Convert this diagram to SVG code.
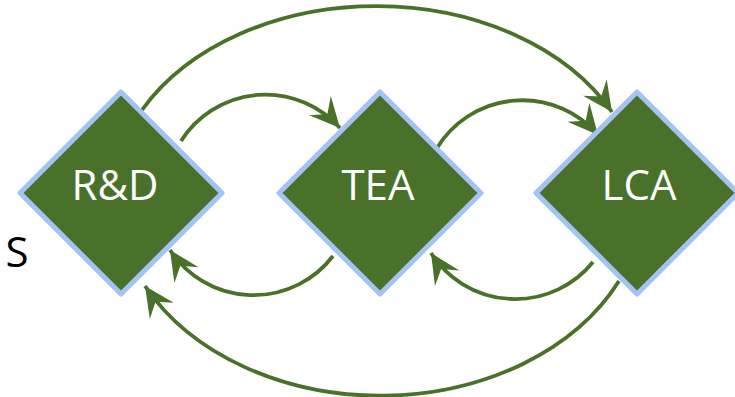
<svg xmlns="http://www.w3.org/2000/svg" width="735" height="397" viewBox="0 0 735 397">
<style>
.node{fill:#4a7129;stroke:#a4c3f5;stroke-width:5;stroke-linejoin:round}
.lbl{font-family:"Open Sans","Liberation Sans",sans-serif;font-size:42px;fill:#ffffff;text-anchor:middle}
.conn{fill:none;stroke:#4a7129;stroke-width:3.8;marker-end:url(#ah)}
</style>
<defs>
<marker id="ah" markerUnits="userSpaceOnUse" markerWidth="40" markerHeight="40" viewBox="-32 -16 36 32" refX="0" refY="0" orient="auto">
<path d="M0,0 L-27,-13 L-17,0 L-27,13 Z" fill="#4a7129"/>
</marker>
</defs>
<rect width="735" height="397" fill="#ffffff"/>
<g id="connectors">
<path class="conn" d="M142,110 A265,195 0 0 1 612,112"/>
<path class="conn" d="M181,141 A100,100 0 0 1 340,128"/>
<path class="conn" d="M437,148 A100,100 0 0 1 598,135"/>
<path class="conn" d="M333,256 A100,100 0 0 1 170,250"/>
<path class="conn" d="M593,262 A100,100 0 0 1 431,253"/>
<path class="conn" d="M619,281 A265,203 0 0 1 145,286"/>
</g>
<g id="rd">
<polygon class="node" points="121,92 222,193 121,294 20,193"/>
<text class="lbl" x="115" y="200">R&amp;D</text>
</g>
<g id="tea">
<polygon class="node" points="380,92 481,193 380,294 279,193"/>
<text class="lbl" x="378" y="200">TEA</text>
</g>
<g id="lca">
<polygon class="node" points="637,92 738,193 637,294 536,193"/>
<text class="lbl" x="639" y="200">LCA</text>
</g>
<text x="17" y="267" font-family="'Open Sans','Liberation Sans',sans-serif" font-size="42" fill="#000000" text-anchor="middle">S</text>
</svg>
